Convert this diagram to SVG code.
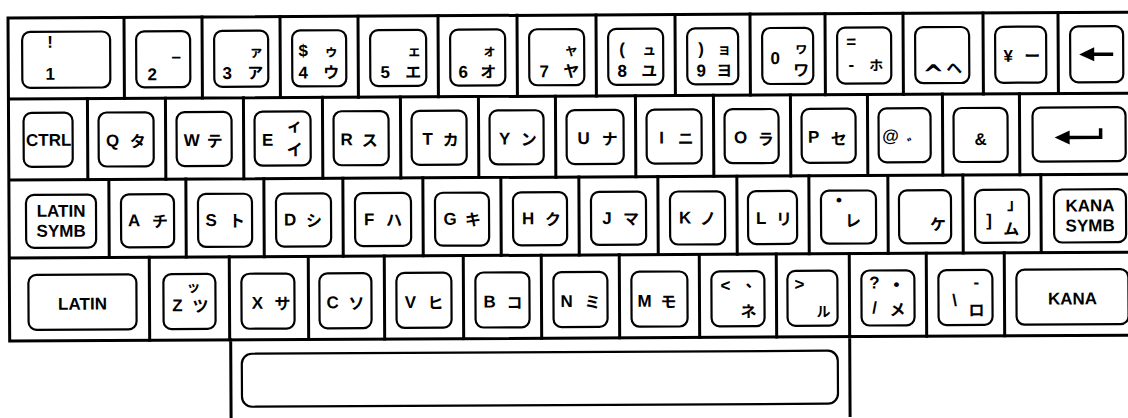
<svg xmlns="http://www.w3.org/2000/svg" width="1128" height="418" viewBox="0 0 1128 418">
<style>
.f{fill:none;stroke:#000;stroke-width:3;stroke-linecap:square}
.k{fill:#fff;stroke:#000;stroke-width:2.2}
.l{font-family:"Liberation Sans",Arial,sans-serif;font-weight:bold;font-size:17px;text-anchor:middle;fill:#000}
.j{font-family:"Noto Sans CJK JP",sans-serif;font-weight:bold;font-size:16px;text-anchor:middle;fill:#000}
.s{font-size:14px}
.ar{fill:none;stroke:#000;stroke-width:3.5}
</style>
<rect width="1128" height="418" fill="#fff"/>
<g transform="rotate(-0.3 8 18)">
<g id="frame">
<path class="f" d="M8 18H1130M8 99H1130M8 180H1130M8 258H1130M8 341H1130M8 18V341M229 341V420M848 341V420"/>
<path class="f" d="M124 18V99M202 18V99M280 18V99M358 18V99M438 18V99M517 18V99M596 18V99M675 18V99M750 18V99M825 18V99M903 18V99M983 18V99M1058 18V99"/>
<path class="f" d="M87 99V180M165 99V180M243 99V180M322 99V180M400 99V180M478 99V180M555 99V180M635 99V180M713 99V180M790 99V180M867 99V180M942 99V180M1019 99V180"/>
<path class="f" d="M108 180V258M185 180V258M263 180V258M342 180V258M422 180V258M500 180V258M578 180V258M657 180V258M736 180V258M808 180V258M887 180V258M962 180V258M1040 180V258"/>
<path class="f" d="M148 258V341M228 258V341M307 258V341M383 258V341M462 258V341M540 258V341M618 258V341M698 258V341M775 258V341M848 258V341M925 258V341M1003 258V341"/>
</g>
<!-- Row 1 -->
<g id="key-1"><rect class="k" x="22" y="32" width="88" height="56" rx="8"/><text class="l" x="50" y="48" font-size="10">!</text><text class="l" x="50" y="80">1</text></g>
<g id="key-2"><rect class="k" x="136" y="32" width="54" height="56" rx="8"/><text class="l" x="176" y="63">–</text><text class="l" x="152" y="81">2</text></g>
<g id="key-3"><rect class="k" x="214" y="32" width="54" height="56" rx="8"/><text class="j s" x="256" y="58">ァ</text><text class="l" x="227" y="80">3</text><text class="j" x="255" y="80">ア</text></g>
<g id="key-4"><rect class="k" x="292" y="32" width="54" height="56" rx="8"/><text class="l" x="303" y="58">$</text><text class="j s" x="331" y="58">ゥ</text><text class="l" x="303" y="80">4</text><text class="j" x="331" y="80">ウ</text></g>
<g id="key-5"><rect class="k" x="370" y="32" width="56" height="56" rx="8"/><text class="j s" x="414" y="58">ェ</text><text class="l" x="385" y="80">5</text><text class="j" x="413" y="80">エ</text></g>
<g id="key-6"><rect class="k" x="450" y="32" width="55" height="56" rx="8"/><text class="j s" x="489" y="58">ォ</text><text class="l" x="463" y="80">6</text><text class="j" x="488" y="80">オ</text></g>
<g id="key-7"><rect class="k" x="529" y="32" width="55" height="56" rx="8"/><text class="j s" x="571" y="58">ャ</text><text class="l" x="544" y="80">7</text><text class="j" x="571" y="80">ヤ</text></g>
<g id="key-8"><rect class="k" x="608" y="32" width="55" height="56" rx="8"/><text class="l" x="622" y="58">(</text><text class="j s" x="649" y="58">ュ</text><text class="l" x="622" y="80">8</text><text class="j" x="649" y="80">ユ</text></g>
<g id="key-9"><rect class="k" x="687" y="32" width="51" height="56" rx="8"/><text class="l" x="701" y="58">)</text><text class="j s" x="724" y="58">ョ</text><text class="l" x="701" y="80">9</text><text class="j" x="724" y="80">ヨ</text></g>
<g id="key-0"><rect class="k" x="762" y="32" width="51" height="56" rx="8"/><text class="l" x="775" y="68">0</text><text class="j s" x="801" y="57">ヮ</text><text class="j" x="801" y="80">ワ</text></g>
<g id="key-minus"><rect class="k" x="837" y="32" width="54" height="56" rx="8"/><text class="l" x="851" y="52" font-size="15">=</text><text class="l" x="851" y="75">-</text><text class="j s" x="876" y="75">ホ</text></g>
<g id="key-caret"><rect class="k" x="915" y="32" width="54" height="56" rx="8"/><text x="933" y="88" font-family="DejaVu Sans, sans-serif" font-weight="bold" font-size="26" text-anchor="middle">^</text><text class="j" x="954" y="79" font-size="18">ヘ</text></g>
<g id="key-yen"><rect class="k" x="995" y="32" width="51" height="56" rx="8"/><text class="l" x="1008" y="67">¥</text><text class="j" x="1032" y="67">ー</text></g>
<g id="key-bs"><rect class="k" x="1070" y="32" width="53" height="56" rx="8"/><path d="M1079 60L1094 53V67Z"/><path class="ar" d="M1092 60H1113"/></g>
<!-- Row 2 -->
<g id="key-ctrl"><rect class="k" x="23" y="113" width="49" height="54" rx="8"/><text class="l" x="48" y="146" font-size="15.5">CTRL</text></g>
<g id="key-q"><rect class="k" x="98" y="113" width="55" height="54" rx="8"/><text class="l" x="112" y="147">Q</text><text class="j" x="137" y="148">タ</text></g>
<g id="key-w"><rect class="k" x="176" y="113" width="55" height="54" rx="8"/><text class="l" x="191" y="147">W</text><text class="j" x="214" y="148">テ</text></g>
<g id="key-e"><rect class="k" x="254" y="113" width="56" height="54" rx="8"/><text class="l" x="267" y="147">E</text><text class="j" x="294" y="133" font-size="13">ィ</text><text class="j" x="294" y="157">イ</text></g>
<g id="key-r"><rect class="k" x="333" y="113" width="55" height="54" rx="8"/><text class="l" x="346" y="147">R</text><text class="j" x="369" y="148">ス</text></g>
<g id="key-t"><rect class="k" x="411" y="113" width="55" height="54" rx="8"/><text class="l" x="427" y="147">T</text><text class="j" x="450" y="148">カ</text></g>
<g id="key-y"><rect class="k" x="489" y="113" width="54" height="54" rx="8"/><text class="l" x="504" y="147">Y</text><text class="j" x="528" y="148">ン</text></g>
<g id="key-u"><rect class="k" x="566" y="113" width="57" height="54" rx="8"/><text class="l" x="583" y="147">U</text><text class="j" x="609" y="148">ナ</text></g>
<g id="key-i"><rect class="k" x="646" y="113" width="55" height="54" rx="8"/><text class="l" x="661" y="147">I</text><text class="j" x="685" y="148">ニ</text></g>
<g id="key-o"><rect class="k" x="724" y="113" width="54" height="54" rx="8"/><text class="l" x="740" y="147">O</text><text class="j" x="765" y="149">ラ</text></g>
<g id="key-p"><rect class="k" x="801" y="113" width="54" height="54" rx="8"/><text class="l" x="813" y="147">P</text><text class="j" x="838" y="149">セ</text></g>
<g id="key-at"><rect class="k" x="878" y="113" width="52" height="54" rx="8"/><text class="l" x="890" y="146" font-size="15">@</text><text class="j" x="910" y="156" font-size="22">ﾞ</text></g>
<g id="key-amp"><rect class="k" x="953" y="113" width="54" height="54" rx="8"/><text class="l" x="980" y="150">&amp;</text></g>
<g id="key-return"><rect class="k" x="1032" y="113" width="93" height="54" rx="8"/><path d="M1054 143L1069 136V150Z"/><path class="ar" d="M1067 143H1100V134"/></g>
<!-- Row 3 -->
<g id="key-latin-symb"><rect class="k" x="25" y="195" width="70" height="53" rx="8"/><text class="l" x="60" y="217">LATIN</text><text class="l" x="60" y="237">SYMB</text></g>
<g id="key-a"><rect class="k" x="120" y="195" width="53" height="53" rx="8"/><text class="l" x="133" y="227">A</text><text class="j" x="159" y="228">チ</text></g>
<g id="key-s"><rect class="k" x="197" y="195" width="54" height="53" rx="8"/><text class="l" x="210" y="227">S</text><text class="j" x="236" y="228">ト</text></g>
<g id="key-d"><rect class="k" x="275" y="195" width="55" height="53" rx="8"/><text class="l" x="289" y="227">D</text><text class="j" x="313" y="228">シ</text></g>
<g id="key-f"><rect class="k" x="354" y="195" width="56" height="53" rx="8"/><text class="l" x="368" y="227">F</text><text class="j" x="393" y="228">ハ</text></g>
<g id="key-g"><rect class="k" x="434" y="195" width="54" height="53" rx="8"/><text class="l" x="449" y="227">G</text><text class="j" x="472" y="228">キ</text></g>
<g id="key-h"><rect class="k" x="512" y="195" width="54" height="53" rx="8"/><text class="l" x="527" y="227">H</text><text class="j" x="552" y="228">ク</text></g>
<g id="key-j"><rect class="k" x="590" y="195" width="55" height="53" rx="8"/><text class="l" x="606" y="227">J</text><text class="j" x="630" y="228">マ</text></g>
<g id="key-k"><rect class="k" x="669" y="195" width="55" height="53" rx="8"/><text class="l" x="684" y="227">K</text><text class="j" x="707" y="228">ノ</text></g>
<g id="key-l"><rect class="k" x="747" y="195" width="49" height="53" rx="8"/><text class="l" x="760" y="228">L</text><text class="j" x="783" y="229">リ</text></g>
<g id="key-semicolon"><rect class="k" x="820" y="195" width="55" height="53" rx="8"/><text class="l" x="838" y="210" font-size="13">•</text><text class="j" x="852" y="231">レ</text></g>
<g id="key-colon"><rect class="k" x="898" y="195" width="52" height="53" rx="8"/><text class="j" x="937" y="235">ケ</text></g>
<g id="key-rbracket"><rect class="k" x="974" y="195" width="54" height="53" rx="8"/><text class="l" x="988" y="231">]</text><text class="j" x="1014" y="215" font-size="13">」</text><text class="j" x="1010" y="240">ム</text></g>
<g id="key-kana-symb"><rect class="k" x="1053" y="195" width="72" height="53" rx="8"/><text class="l" x="1089" y="217">KANA</text><text class="l" x="1089" y="237">SYMB</text></g>
<!-- Row 4 -->
<g id="key-latin"><rect class="k" x="27" y="275" width="108" height="55" rx="8"/><text class="l" x="81" y="310">LATIN</text></g>
<g id="key-z"><rect class="k" x="162" y="275" width="52" height="55" rx="8"/><text class="j s" x="192" y="293">ッ</text><text class="l" x="176" y="312">Z</text><text class="j" x="199" y="313">ツ</text></g>
<g id="key-x"><rect class="k" x="240" y="275" width="53" height="55" rx="8"/><text class="l" x="256" y="310">X</text><text class="j" x="281" y="311">サ</text></g>
<g id="key-c"><rect class="k" x="318" y="275" width="52" height="55" rx="8"/><text class="l" x="331" y="310">C</text><text class="j" x="355" y="311">ソ</text></g>
<g id="key-v"><rect class="k" x="395" y="275" width="55" height="55" rx="8"/><text class="l" x="409" y="310">V</text><text class="j" x="434" y="311">ヒ</text></g>
<g id="key-b"><rect class="k" x="474" y="275" width="54" height="55" rx="8"/><text class="l" x="488" y="310">B</text><text class="j" x="513" y="311">コ</text></g>
<g id="key-n"><rect class="k" x="552" y="275" width="54" height="55" rx="8"/><text class="l" x="565" y="310">N</text><text class="j" x="591" y="311">ミ</text></g>
<g id="key-m"><rect class="k" x="630" y="275" width="56" height="55" rx="8"/><text class="l" x="643" y="310">M</text><text class="j" x="667" y="311">モ</text></g>
<g id="key-comma"><rect class="k" x="710" y="275" width="53" height="55" rx="8"/><text class="l" x="724" y="295">&lt;</text><text class="j" x="752" y="291" font-size="18">、</text><text class="j" x="747" y="321">ネ</text></g>
<g id="key-period"><rect class="k" x="786" y="275" width="50" height="55" rx="8"/><text class="l" x="798" y="294">&gt;</text><text class="j s" x="822" y="321">ル</text></g>
<g id="key-slash"><rect class="k" x="860" y="275" width="53" height="55" rx="8"/><text class="l" x="873" y="293" font-size="15">?</text><text class="l" x="895" y="295" font-size="13">•</text><text class="l" x="873" y="318" font-size="15">/</text><text class="j" x="896" y="320">メ</text></g>
<g id="key-backslash"><rect class="k" x="937" y="275" width="54" height="55" rx="8"/><text class="l" x="953" y="311" font-size="19">\</text><text class="l" x="975" y="293" font-size="14">-</text><text class="j" x="975" y="321">ロ</text></g>
<g id="key-kana"><rect class="k" x="1015" y="275" width="112" height="55" rx="8"/><text class="l" x="1071" y="310">KANA</text></g>
<!-- Spacebar -->
<g id="key-space"><rect class="k" x="240" y="355" width="596" height="53" rx="10"/></g>
</g>
</svg>
